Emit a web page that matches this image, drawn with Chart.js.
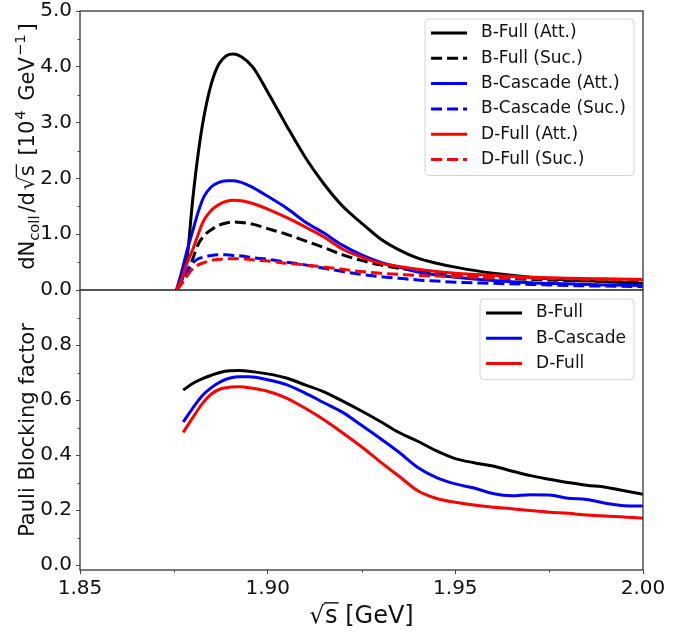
<!DOCTYPE html>
<html>
<head>
<meta charset="utf-8">
<script src="https://cdn.jsdelivr.net/npm/chart.js@4.4.1/dist/chart.umd.min.js"></script>
<style>
    body { margin: 0; background: #fff; overflow: hidden; }
    #wrap { position: relative; width: 689px; height: 632px; overflow: hidden; }
    canvas { position: absolute; left: 0; }
</style>
</head>
<body>
<div id="wrap">
    <canvas id="topChart" width="689" height="340" style="top:-20px"></canvas>
    <canvas id="botChart" width="689" height="362" style="top:270px"></canvas>
</div>
<script>
// Collision spectra (top panel), in units of 10^4 GeV^-1
const topX = [1.8757, 1.877, 1.8785, 1.880, 1.8815, 1.883, 1.885, 1.887, 1.889, 1.891, 1.893, 1.896,
    1.900, 1.905, 1.910, 1.915, 1.920, 1.925, 1.930, 1.935, 1.940, 1.945, 1.950, 1.960, 1.970, 1.980, 1.990, 2.000];
const bFullAtt = [0, 0.15, 0.55, 1.6, 2.45, 3.1, 3.7, 4.05, 4.2, 4.23, 4.18, 4.0,
    3.55, 2.95, 2.38, 1.90, 1.50, 1.20, 0.92, 0.72, 0.57, 0.48, 0.41, 0.30, 0.23, 0.18, 0.15, 0.12];
const bFullSuc = [0, 0.12, 0.28, 0.55, 0.82, 0.97, 1.08, 1.16, 1.20, 1.22, 1.21, 1.18,
    1.10, 1.00, 0.88, 0.76, 0.63, 0.53, 0.45, 0.39, 0.34, 0.30, 0.26, 0.22, 0.19, 0.17, 0.16, 0.15];
const bCascAtt = [0, 0.3, 0.7, 1.05, 1.4, 1.67, 1.85, 1.93, 1.96, 1.96, 1.93, 1.84,
    1.68, 1.47, 1.22, 1.02, 0.80, 0.63, 0.50, 0.41, 0.32, 0.27, 0.23, 0.17, 0.13, 0.11, 0.09, 0.08];
const bCascSuc = [0, 0.15, 0.35, 0.48, 0.56, 0.59, 0.62, 0.63, 0.63, 0.62, 0.61, 0.58,
    0.55, 0.50, 0.45, 0.39, 0.33, 0.28, 0.24, 0.21, 0.18, 0.16, 0.14, 0.12, 0.10, 0.08, 0.07, 0.06];
const dFullAtt = [0, 0.18, 0.48, 0.72, 1.0, 1.25, 1.43, 1.53, 1.59, 1.61, 1.60, 1.55,
    1.45, 1.30, 1.13, 0.95, 0.73, 0.59, 0.48, 0.42, 0.37, 0.33, 0.30, 0.26, 0.23, 0.21, 0.20, 0.19];
const dFullSuc = [0, 0.1, 0.25, 0.38, 0.45, 0.49, 0.53, 0.55, 0.56, 0.56, 0.56, 0.54,
    0.52, 0.48, 0.45, 0.41, 0.37, 0.33, 0.30, 0.28, 0.26, 0.25, 0.24, 0.22, 0.21, 0.20, 0.19, 0.19];

// Pauli blocking factor (bottom panel)
const botX = [1.8775, 1.880, 1.8825, 1.885, 1.8875, 1.890, 1.8925, 1.895, 1.900, 1.905, 1.910, 1.915,
    1.920, 1.925, 1.930, 1.935, 1.940, 1.945, 1.950, 1.955, 1.960, 1.965, 1.970, 1.975, 1.980, 1.985, 1.990, 1.995, 2.000];
const pbBFull = [0.636, 0.66, 0.677, 0.69, 0.701, 0.706, 0.707, 0.705, 0.695, 0.680, 0.655, 0.630,
    0.596, 0.56, 0.522, 0.482, 0.45, 0.415, 0.387, 0.372, 0.36, 0.342, 0.325, 0.312, 0.30, 0.29, 0.283, 0.27, 0.257];
const pbBCasc = [0.52, 0.57, 0.615, 0.645, 0.667, 0.68, 0.685, 0.685, 0.674, 0.656, 0.625, 0.59,
    0.555, 0.508, 0.46, 0.41, 0.355, 0.318, 0.295, 0.28, 0.26, 0.252, 0.256, 0.255, 0.243, 0.238, 0.225, 0.216, 0.215];
const pbDFull = [0.482, 0.535, 0.585, 0.622, 0.641, 0.647, 0.648, 0.645, 0.632, 0.607, 0.57, 0.528,
    0.48, 0.43, 0.375, 0.323, 0.27, 0.242, 0.228, 0.218, 0.21, 0.205, 0.198, 0.192, 0.188, 0.182, 0.178, 0.175, 0.17];

// Tick positions
const xMajorTicks = [1.85, 1.90, 1.95, 2.00];
const xMinorTicks = [1.875, 1.925, 1.975];
const topMajorTicks = [0, 1, 2, 3, 4, 5];
const topMinorTicks = [0.5, 1.5, 2.5, 3.5, 4.5];
const botMajorTicks = [0, 0.2, 0.4, 0.6, 0.8];
const botMinorTicks = [0.1, 0.3, 0.5, 0.7, 0.9];

const FONT = '"DejaVu Sans", Verdana, sans-serif';
const INK = '#111';
const SPINE = '#444';

function pts(xs, ys) {
    return xs.map((x, i) => ({ x, y: ys[i] }));
}

function line(label, xs, ys, color, dashed) {
    return {
        label,
        data: pts(xs, ys),
        borderColor: color,
        borderWidth: 3,
        borderDash: dashed ? [11, 5] : [],
        pointRadius: 0,
        cubicInterpolationMode: 'monotone',
        fill: false
    };
}

// Later datasets sit on top, like matplotlib
function stackOrder(sets) {
    sets.forEach((d, i) => d.order = sets.length - i);
    return sets;
}

// Text with sub/superscripts and an overbar for sqrt(s)
function drawRich(ctx, segs, cx, cy, size, angle) {
    ctx.save();
    ctx.translate(cx, cy);
    ctx.rotate(angle);
    const fontFor = s => ((s.mode === 'sub' || s.mode === 'sup') ? size * 0.7 : size) + 'px ' + FONT;
    let total = 0;
    segs.forEach(s => {
        ctx.font = fontFor(s);
        s.w = ctx.measureText(s.t).width;
        total += s.w + (s.gap || 0);
    });
    let x = -total / 2;
    ctx.fillStyle = INK;
    ctx.strokeStyle = INK;
    ctx.textAlign = 'left';
    ctx.textBaseline = 'alphabetic';
    segs.forEach(s => {
        ctx.font = fontFor(s);
        const dy = s.mode === 'sub' ? size * 0.22 : s.mode === 'sup' ? -size * 0.42 : 0;
        ctx.fillText(s.t, x, dy);
        if (s.mode === 'over') {
            ctx.beginPath();
            ctx.lineWidth = size * 0.06;
            ctx.moveTo(x - 1, -size * 0.84);
            ctx.lineTo(x + s.w + 1, -size * 0.84);
            ctx.stroke();
        }
        x += s.w + (s.gap || 0);
    });
    ctx.restore();
}

// Frame, minor ticks, axis titles and an inset legend
function decorPlugin(opts) {
    return {
        id: 'decor',
        afterDraw(chart) {
            const ctx = chart.ctx, a = chart.chartArea;
            const xs = chart.scales.x, ys = chart.scales.y;
            ctx.save();
            ctx.strokeStyle = SPINE;
            ctx.lineWidth = 1.4;
            ctx.strokeRect(a.left, a.top, a.right - a.left, a.bottom - a.top);

            ctx.lineWidth = 1;
            ctx.beginPath();
            opts.yMinor.forEach(v => {
                const p = Math.round(ys.getPixelForValue(v)) + 0.5;
                ctx.moveTo(a.left, p); ctx.lineTo(a.left - 2.5, p);
            });
            if (opts.xMinor) {
                opts.xMinor.forEach(v => {
                    const p = Math.round(xs.getPixelForValue(v)) + 0.5;
                    ctx.moveTo(p, a.bottom); ctx.lineTo(p, a.bottom + 2.5);
                });
            }
            ctx.stroke();
            ctx.restore();

            drawRich(ctx, opts.yTitle, 34, (a.top + a.bottom) / 2 + (opts.yTitleShift || 0), opts.yTitleSize, -Math.PI / 2);
            if (opts.xTitle) drawRich(ctx, opts.xTitle, (a.left + a.right) / 2, a.bottom + opts.xTitleDy, 24, 0);

            // legend box
            const items = chart.data.datasets;
            ctx.save();
            ctx.font = '17px ' + FONT;
            const tw = Math.max(...items.map(d => ctx.measureText(d.label).width));
            const rowH = 25.3;
            const w = 56 + tw + 8, h = 30 + rowH * (items.length - 1);
            const x0 = a.right - 9 - w, y0 = a.top + opts.legendInset;
            ctx.beginPath();
            ctx.roundRect(x0, y0, w, h, 4);
            ctx.fillStyle = 'rgba(255,255,255,0.8)';
            ctx.fill();
            ctx.strokeStyle = '#d4d4d4';
            ctx.lineWidth = 1;
            ctx.stroke();
            items.forEach((d, i) => {
                const y = y0 + 14 + i * rowH;
                ctx.beginPath();
                ctx.setLineDash(d.borderDash);
                ctx.strokeStyle = d.borderColor;
                ctx.lineWidth = 3;
                ctx.moveTo(x0 + 6, y);
                ctx.lineTo(x0 + 42, y);
                ctx.stroke();
                ctx.setLineDash([]);
                ctx.fillStyle = INK;
                ctx.textBaseline = 'middle';
                ctx.textAlign = 'left';
                ctx.fillText(d.label, x0 + 56, y);
            });
            ctx.restore();
        }
    };
}

function xScale(showLabels) {
    return {
        type: 'linear',
        min: 1.85,
        max: 2.0,
        afterBuildTicks: s => { s.ticks = xMajorTicks.map(v => ({ value: v })); },
        afterFit: s => { s.height = showLabels ? 62 : 30; },
        border: { display: false },
        grid: { display: showLabels, drawOnChartArea: false, tickLength: 4, tickColor: SPINE, tickWidth: 1 },
        ticks: {
            display: showLabels,
            padding: 3,
            color: INK,
            font: { family: FONT, size: 20 },
            maxRotation: 0,
            callback: v => v.toFixed(2)
        }
    };
}

function yScale(min, max, majors) {
    return {
        type: 'linear',
        min,
        max,
        afterBuildTicks: s => { s.ticks = majors.map(v => ({ value: v })); },
        afterFit: s => { s.width = 80; },
        border: { display: false },
        grid: { drawOnChartArea: false, tickLength: 4, tickColor: SPINE, tickWidth: 1 },
        ticks: {
            padding: 4,
            color: INK,
            font: { family: FONT, size: 20 },
            callback: v => v.toFixed(1)
        }
    };
}

const common = {
    responsive: false,
    animation: false,
    devicePixelRatio: 1,
    plugins: { legend: { display: false }, tooltip: { enabled: false } }
};

const sqrtS = [{ t: '√', gap: 0.5 }, { t: 's', mode: 'over' }];

// Top panel: collision spectra
new Chart(document.getElementById('topChart'), {
    type: 'line',
    data: {
        datasets: stackOrder([
            line('B-Full (Att.)', topX, bFullAtt, '#000000', false),
            line('B-Full (Suc.)', topX, bFullSuc, '#000000', true),
            line('B-Cascade (Att.)', topX, bCascAtt, '#0000ff', false),
            line('B-Cascade (Suc.)', topX, bCascSuc, '#0000ff', true),
            line('D-Full (Att.)', topX, dFullAtt, '#ff0000', false),
            line('D-Full (Suc.)', topX, dFullSuc, '#ff0000', true)
        ])
    },
    options: {
        ...common,
        layout: { autoPadding: false, padding: { top: 31, right: 46, left: 0, bottom: 0 } },
        scales: { x: xScale(false), y: yScale(0, 5, topMajorTicks) }
    },
    plugins: [decorPlugin({
        yMinor: topMinorTicks,
        legendInset: 8,
        yTitleSize: 21,
        yTitleShift: -4,
        yTitle: [{ t: 'dN' }, { t: 'coll', mode: 'sub', gap: 3 }, { t: '/d', gap: 2 },
            { t: '√', gap: 0.5 }, { t: 's', mode: 'over', gap: 3 },
            { t: ' [10', gap: 1 }, { t: '4', mode: 'sup', gap: 3 }, { t: ' GeV', gap: 1 },
            { t: '−1', mode: 'sup', gap: 3 }, { t: ']' }]
    })]
});

// Bottom panel: Pauli blocking factor
new Chart(document.getElementById('botChart'), {
    type: 'line',
    data: {
        datasets: stackOrder([
            line('B-Full', botX, pbBFull, '#000000', false),
            line('B-Cascade', botX, pbBCasc, '#0000ff', false),
            line('D-Full', botX, pbDFull, '#ff0000', false)
        ])
    },
    options: {
        ...common,
        layout: { autoPadding: false, padding: { top: 20, right: 46, left: 0, bottom: 0 } },
        scales: { x: xScale(true), y: yScale(-0.018, 1.0, botMajorTicks) }
    },
    plugins: [decorPlugin({
        yMinor: botMinorTicks,
        xMinor: xMinorTicks,
        legendInset: 9,
        yTitleSize: 21,
        yTitle: [{ t: 'Pauli Blocking factor' }],
        xTitle: [...sqrtS, { t: ' [GeV]' }],
        xTitleDy: 53
    })]
});
</script>
</body>
</html>
